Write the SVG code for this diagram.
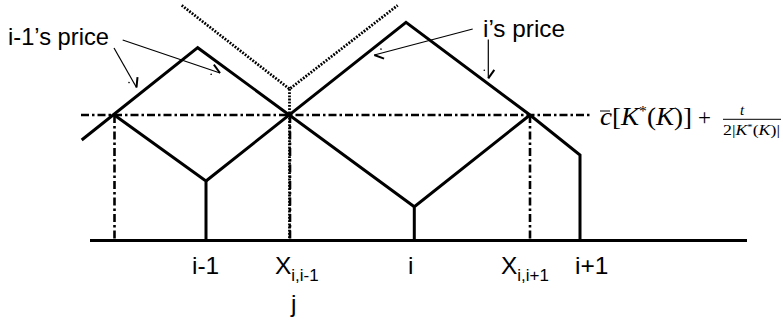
<svg xmlns="http://www.w3.org/2000/svg" width="783" height="327" viewBox="0 0 783 327">
<style>
.thick{fill:none;stroke:#000;stroke-width:3;stroke-linejoin:miter;stroke-linecap:butt}
.dashdot{fill:none;stroke:#000;stroke-width:2.6;stroke-dasharray:8 3 2.5 3}
.dotted{fill:none;stroke:#000;stroke-width:2.8;stroke-dasharray:1.8 1.4}
.callout{fill:none;stroke:#000;stroke-width:1.2}
.lbl{font-family:"Liberation Sans",Arial,sans-serif;font-size:24.5px;fill:#000}
.sub{font-size:17px}
.math{font-family:"Liberation Serif","Times New Roman",serif;fill:#000}
</style>
<defs>
<marker id="ah" markerUnits="userSpaceOnUse" markerWidth="20" markerHeight="20" refX="0" refY="0" viewBox="-12 -10 14 20" orient="auto" overflow="visible">
<path d="M0,0 L-8.5,-6" fill="none" stroke="#000" stroke-width="2"/>
<circle cx="-8" cy="4" r="0.8" fill="#000"/>
</marker>
</defs>
<rect width="783" height="327" fill="#fff"/>

<g id="guides">
<line class="dashdot" x1="81" y1="115" x2="590" y2="115"/>
<line class="dashdot" x1="114.5" y1="115" x2="114.5" y2="240"/>
<line class="dashdot" x1="290" y1="115" x2="290" y2="240"/>
<line class="dashdot" x1="530" y1="115" x2="530" y2="240"/>
<polyline class="dotted" points="181.7,5.3 289.5,89 397.7,5.3"/>
<line class="dotted" x1="289.5" y1="89" x2="289.5" y2="240"/>
</g>

<g id="axis">
<line class="thick" x1="90" y1="240.5" x2="747" y2="240.5"/>
</g>

<g id="price-i-1">
<polyline class="thick" points="81.7,140 197.7,47.7 414.3,206.7"/>
<polyline class="thick" points="114.3,115 206,181 206,240"/>
</g>

<g id="price-i">
<polyline class="thick" points="206,181 406,22.3 530,115 580,155 580,240"/>
<polyline class="thick" points="530,115 414.3,206.7 414.3,240"/>
</g>

<g id="connectors">
<line class="callout" x1="114" y1="48" x2="136.5" y2="87.5" marker-end="url(#ah)"/>
<line class="callout" x1="122.7" y1="40" x2="220" y2="73" marker-end="url(#ah)"/>
<line class="callout" x1="472.7" y1="29" x2="374.3" y2="55" marker-end="url(#ah)"/>
<line class="callout" x1="488.3" y1="39.5" x2="488.3" y2="78.3" marker-end="url(#ah)"/>
</g>

<g id="label-i-1-price"><text class="lbl" x="8" y="45" textLength="101" lengthAdjust="spacingAndGlyphs">i-1’s price</text></g>
<g id="label-i-price"><text class="lbl" x="483" y="37" textLength="82" lengthAdjust="spacingAndGlyphs">i’s price</text></g>

<g id="tick-labels">
<text class="lbl" x="192" y="274">i-1</text>
<text class="lbl" x="275" y="274">X<tspan class="sub" dy="7">i,i-1</tspan></text>
<text class="lbl" x="408" y="274">i</text>
<text class="lbl" x="501" y="274">X<tspan class="sub" dy="7">i,i+1</tspan></text>
<text class="lbl" x="575" y="274">i+1</text>
<text class="lbl" x="291" y="312">j</text>
</g>

<g id="formula">
<text class="math" x="600" y="125" font-size="26" textLength="92" lengthAdjust="spacingAndGlyphs"><tspan font-style="italic">c</tspan>[<tspan font-style="italic">K</tspan><tspan font-size="15" dy="-9">*</tspan><tspan dy="9">(</tspan><tspan font-style="italic">K</tspan>)]</text>
<line x1="600" y1="111" x2="610" y2="111" stroke="#000" stroke-width="1"/>
<text class="math" x="698" y="125" font-size="23">+</text>
<text class="math" x="740" y="115" font-size="15" font-style="italic">t</text>
<line x1="723" y1="119.3" x2="781" y2="119.3" stroke="#000" stroke-width="1"/>
<text class="math" x="723" y="134.5" font-size="15" textLength="57" lengthAdjust="spacingAndGlyphs">2|<tspan font-style="italic">K</tspan><tspan font-size="9" dy="-5">*</tspan><tspan dy="5">(</tspan><tspan font-style="italic">K</tspan>)|</text>
</g>
</svg>
